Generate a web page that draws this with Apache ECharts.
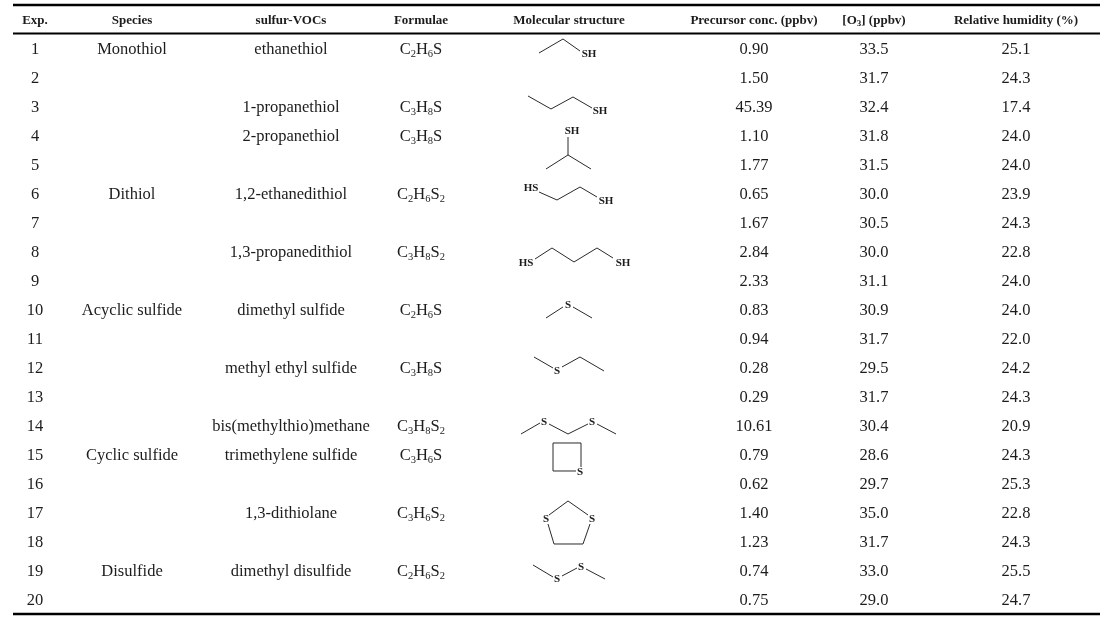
<!DOCTYPE html>
<html>

<head>
  <meta charset="utf-8" />
  <title>sulfur-VOCs experiments</title>
  <script src="https://cdn.jsdelivr.net/npm/echarts@6.0.0/dist/echarts.min.js"></script>
</head>
<style>
  body {
    margin: 0;
    padding: 0;
    overflow: hidden;
    background: #fff;
  }
</style>

<body>
  <div id="main" style="width: 1107px;height: 617px;"></div>
  <script type="text/javascript">
    // table content
    const headers = ['Exp.', 'Species', 'sulfur-VOCs', 'Formulae', 'Molecular structure',
      'Precursor conc. (ppbv)', '[O3] (ppbv)', 'Relative humidity (%)'];
    const exps = [1, 2, 3, 4, 5, 6, 7, 8, 9, 10, 11, 12, 13, 14, 15, 16, 17, 18, 19, 20];
    const species = ['Monothiol', '', '', '', '', 'Dithiol', '', '', '', 'Acyclic sulfide',
      '', '', '', '', 'Cyclic sulfide', '', '', '', 'Disulfide', ''];
    const vocs = ['ethanethiol', '', '1-propanethiol', '2-propanethiol', '', '1,2-ethanedithiol', '',
      '1,3-propanedithiol', '', 'dimethyl sulfide', '', 'methyl ethyl sulfide', '',
      'bis(methylthio)methane', 'trimethylene sulfide', '', '1,3-dithiolane', '', 'dimethyl disulfide', ''];
    const formulae = ['C2H6S', '', 'C3H8S', 'C3H8S', '', 'C2H6S2', '', 'C3H8S2', '', 'C2H6S', '',
      'C3H8S', '', 'C3H8S2', 'C3H6S', '', 'C3H6S2', '', 'C2H6S2', ''];
    const precursor = [0.90, 1.50, 45.39, 1.10, 1.77, 0.65, 1.67, 2.84, 2.33, 0.83, 0.94, 0.28, 0.29,
      10.61, 0.79, 0.62, 1.40, 1.23, 0.74, 0.75];
    const ozone = [33.5, 31.7, 32.4, 31.8, 31.5, 30.0, 30.5, 30.0, 31.1, 30.9, 31.7, 29.5, 31.7, 30.4,
      28.6, 29.7, 35.0, 31.7, 33.0, 29.0];
    const humidity = [25.1, 24.3, 17.4, 24.0, 24.0, 23.9, 24.3, 22.8, 24.0, 24.0, 22.0, 24.2, 24.3, 20.9,
      24.3, 25.3, 22.8, 24.3, 25.5, 24.7];

    // skeletal drawings, offsets in px from the cell centre
    const STRUCTS = {
      'ethanethiol': {
        bonds: [[[-30, 3], [-6, -11], [11, 1]]],
        atoms: [['SH', 20, 4]]
      },
      '1-propanethiol': {
        bonds: [[[-41, -12], [-18, 1], [4, -11], [23, 0]]],
        atoms: [['SH', 31, 3]]
      },
      '2-propanethiol': {
        bonds: [[[-1, 0], [-1, 18]], [[-23, 32], [-1, 18], [22, 32]]],
        atoms: [['SH', 3, -6]]
      },
      '1,2-ethanedithiol': {
        bonds: [[[-30, -3], [-12, 5], [11, -8], [28, 2]]],
        atoms: [['HS', -38, -7], ['SH', 37, 6]]
      },
      '1,3-propanedithiol': {
        bonds: [[[-34, 6], [-17, -5], [5, 9], [28, -5], [44, 5]]],
        atoms: [['HS', -43, 10], ['SH', 54, 10]]
      },
      'dimethyl sulfide': {
        bonds: [[[-23, 7], [-6, -4]], [[4, -4], [23, 7]]],
        atoms: [['S', -1, -6]]
      },
      'methyl ethyl sulfide': {
        bonds: [[[-35, -12], [-16, -1]], [[-7, -2], [11, -12], [35, 2]]],
        atoms: [['S', -12, 2]]
      },
      'bis(methylthio)methane': {
        bonds: [[[-48, 7], [-29, -4]], [[-20, -3], [-1, 7], [19, -3]], [[28, -3], [47, 7]]],
        atoms: [['S', -25, -5], ['S', 23, -5]]
      },
      'trimethylene sulfide': {
        bonds: [[[7, 15], [-16, 15], [-16, -13], [12, -13], [12, 11]]],
        atoms: [['S', 11, 16]]
      },
      '1,3-dithiolane': {
        bonds: [[[-20, 1], [-1, -13], [19, 1]], [[-21, 10], [-15, 30], [14, 30], [21, 10]]],
        atoms: [['S', -23, 5], ['S', 23, 5]]
      },
      'dimethyl disulfide': {
        bonds: [[[-36, -7], [-16, 5]], [[-7, 4], [8, -4]], [[17, -3], [36, 7]]],
        atoms: [['S', -12, 7], ['S', 12, -5]]
      }
    };

    const colX = [35, 132, 291, 421, 569, 754, 874, 1016];
    const SERIF = '"Liberation Serif", "Times New Roman", serif';
    const INK = '#1c1c1c';
    const BODY = 16.5;

    const myChart = echarts.init(document.getElementById('main'));

    // "C2H6S" -> rich text with subscripts
    function formulaRich(f) {
      return f.replace(/([A-Z][a-z]?)(\d*)/g, (m, el, n) => (el ? '{n|' + el + '}' : '') + (n ? '{s|' + n + '}' : ''));
    }

    function txt(pos, text, extra) {
      return {
        type: 'text',
        x: pos[0],
        y: pos[1],
        style: Object.assign({
          text: text,
          fontFamily: SERIF,
          fontSize: BODY,
          fill: INK,
          align: 'center',
          verticalAlign: 'middle'
        }, extra || {})
      };
    }

    function renderHeader(params, api) {
      const children = [];
      headers.forEach((h, c) => {
        const p = api.coord([colX[c], 0]);
        if (h.indexOf('[O3]') === 0) {
          children.push(txt(p, '{b|[O}{s|3}{b|] (ppbv)}', {
            rich: {
              b: { fontFamily: SERIF, fontSize: 13, fontWeight: 'bold', fill: INK },
              s: { fontFamily: SERIF, fontSize: 9, fontWeight: 'bold', fill: INK, padding: [6, 0, 0, 0] }
            }
          }));
        } else {
          children.push(txt(p, h, { fontSize: 13, fontWeight: 'bold' }));
        }
      });
      // three horizontal rules
      [[-0.555, 2.5], [0.43, 2], [20.45, 2.5]].forEach(r => {
        const a = api.coord([13, r[0]]);
        const b = api.coord([1100, r[0]]);
        children.push({
          type: 'line',
          shape: { x1: a[0], y1: a[1], x2: b[0], y2: b[1] },
          style: { stroke: '#000', lineWidth: r[1] }
        });
      });
      return { type: 'group', children: children };
    }

    function renderRow(params, api) {
      const i = params.dataIndex;
      const row = exps[i];
      const at = c => api.coord([colX[c], row]);
      const children = [
        txt(at(0), String(exps[i])),
        txt(at(1), species[i]),
        txt(at(2), vocs[i]),
        txt(at(5), precursor[i].toFixed(2)),
        txt(at(6), ozone[i].toFixed(1)),
        txt(at(7), humidity[i].toFixed(1))
      ];
      if (formulae[i]) {
        children.push(txt(at(3), formulaRich(formulae[i]), {
          rich: {
            n: { fontFamily: SERIF, fontSize: BODY, fill: INK },
            s: { fontFamily: SERIF, fontSize: 10.5, fill: INK, padding: [9, 0, 0, 0] }
          }
        }));
      }
      const st = STRUCTS[vocs[i]];
      if (st) {
        const o = at(4);
        st.bonds.forEach(b => {
          children.push({
            type: 'polyline',
            shape: { points: b.map(q => [o[0] + q[0], o[1] + q[1]]) },
            style: { stroke: '#2a2a2a', lineWidth: 1, fill: null }
          });
        });
        st.atoms.forEach(a => {
          children.push(txt([o[0] + a[1], o[1] + a[2]], a[0], {
            fontSize: 11, fontWeight: 'bold'
          }));
        });
      }
      return { type: 'group', children: children };
    }

    const option = {
      animation: false,
      backgroundColor: '#fff',
      grid: { left: 0, right: 0, top: 0, bottom: 0 },
      xAxis: { type: 'value', min: 0, max: 1107, show: false },
      yAxis: { type: 'value', min: -0.7241, max: 20.552, inverse: true, show: false },
      series: [
        {
          type: 'custom',
          renderItem: renderHeader,
          data: [0],
          silent: true
        },
        {
          type: 'custom',
          renderItem: renderRow,
          data: exps.map(e => [e]),
          silent: true
        }
      ]
    };
    myChart.setOption(option);
  </script>
</body>

</html>
